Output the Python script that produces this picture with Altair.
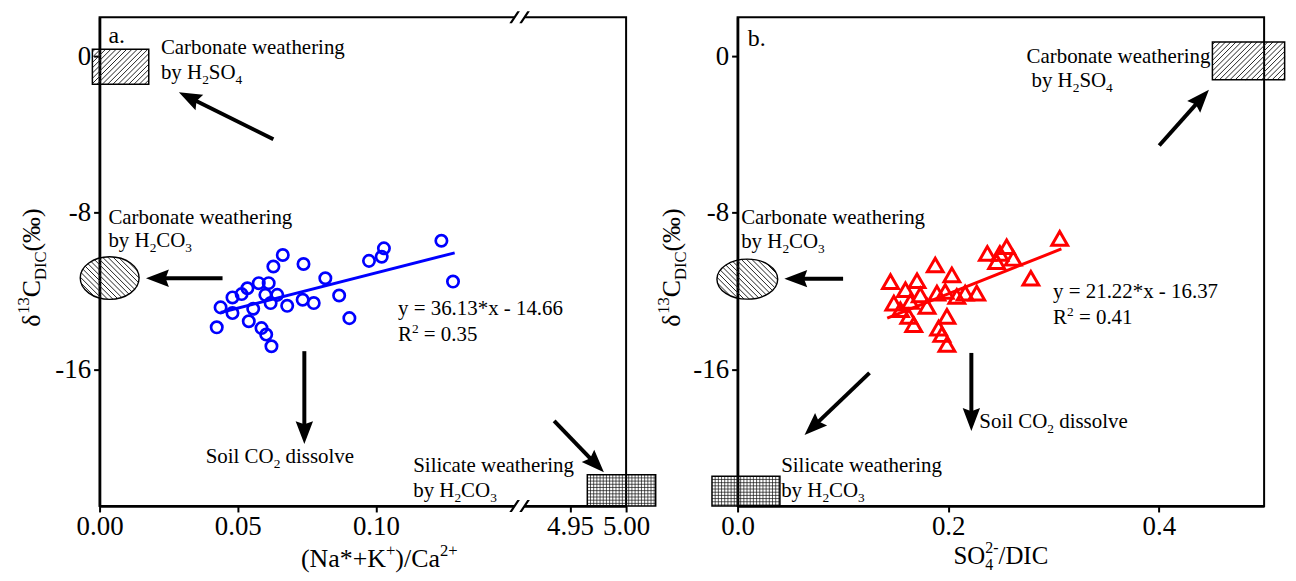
import math
import altair as alt
import pandas as pd

# ---------------- data ----------------
# panel a : (Na*+K+)/Ca2+  vs  d13C-DIC   (open blue circles)
a_ratio = [0.1237, 0.1279, 0.1029, 0.1021, 0.0975, 0.0738, 0.0663, 0.0629, 0.0817, 0.0867,
           0.0904, 0.0775, 0.0735, 0.0679, 0.0643, 0.0612, 0.0576, 0.0600, 0.0619, 0.0535,
           0.0514, 0.0481, 0.0438, 0.0481, 0.0424, 0.0540, 0.0586, 0.0603, 0.0622, 0.0556]
a_d13c = [-9.43, -11.52, -9.82, -10.25, -10.46, -10.62, -10.16, -10.75, -11.35, -12.23,
          -13.39, -12.62, -12.45, -12.76, -12.20, -11.60, -11.60, -12.20, -12.62, -11.86,
          -12.16, -12.33, -12.84, -13.13, -13.86, -13.55, -13.90, -14.23, -14.83, -12.91]
a_fit_x = [0.0438, 0.1285]
a_fit_y = [-13.10, -10.05]

# panel b : SO4 2-/DIC  vs  d13C-DIC   (open red triangles)
b_ratio = [0.3059, 0.2555, 0.2491, 0.2372, 0.2618, 0.2460, 0.2785, 0.2271, 0.2161, 0.2035,
           0.1877, 0.1704, 0.1452, 0.1594, 0.1484, 0.1641, 0.1799, 0.1893, 0.1972, 0.1988,
           0.1909, 0.1988, 0.1626, 0.1673, 0.2082, 0.1546, 0.1940, 0.1735]
b_d13c = [-9.31, -9.74, -10.08, -10.08, -10.33, -10.50, -11.35, -12.11, -12.11, -11.18,
          -10.67, -11.48, -11.52, -11.94, -12.62, -12.54, -12.79, -12.11, -12.03, -13.30,
          -13.90, -14.74, -13.30, -13.72, -12.28, -12.96, -14.23, -12.20]
b_fit_x = [0.1421, 0.3075]
b_fit_y = [-13.39, -9.85]

# tick values
a_xticks = [0.0, 0.05, 0.10, 4.95, 5.00]
b_xticks = [0.0, 0.2, 0.4]
y_ticks = [0, -8, -16]

# end-member fields, data units: x1, x2, y1, y2
a_box_sulf = [-0.0026, 0.0178, 0.36, -1.42]
a_box_sil = [4.9654, 5.0264, -21.40, -23.0]
a_ell = [-0.0070, 0.0143, -10.25, -12.43]
b_box_sulf = [0.4509, 0.5195, 0.74, -1.20]
b_box_sil = [-0.0243, 0.0402, -21.48, -23.0]
b_ell = [-0.0196, 0.0381, -10.37, -12.42]

# arrows, data units: start x, start y, tip x, tip y
a_arrows = [(0.0629, -4.24, 0.0287, -1.84),
            (0.0445, -11.35, 0.0168, -11.35),
            (0.0741, -15.08, 0.0741, -19.83),
            (4.9358, -18.65, 4.9802, -21.28)]
b_arrows = [(0.1002, -11.37, 0.0444, -11.37),
            (0.4004, -4.56, 0.4476, -1.71),
            (0.2220, -15.17, 0.2220, -19.16),
            (0.1253, -16.19, 0.0636, -19.37)]

# annotation texts: pieces, left x, baseline y (data units), font size
a_notes = [
    (["a."], 0.0032, 0.70, 24),
    (["Carbonate weathering"], 0.0222, 0.11, 21),
    (["by H", ("2", "sub"), "SO", ("4", "sub")], 0.0222, -1.18, 21),
    (["Carbonate weathering"], 0.0032, -8.55, 21),
    (["by H", ("2", "sub"), "CO", ("3", "sub")], 0.0032, -9.74, 21),
    (["Soil CO", ("2", "sub"), " dissolve"], 0.0384, -20.82, 21),
    (["Silicate weathering"], 0.1135, -21.28, 21),
    (["by H", ("2", "sub"), "CO", ("3", "sub")], 0.1135, -22.55, 21),
    (["y = 36.13*x - 14.66"], 0.108, -13.25, 21),
    (["R", ("2", "sup"), " = 0.35"], 0.108, -14.58, 21),
]
b_notes = [
    (["b."], 0.0097, 0.53, 24),
    (["Carbonate weathering"], 0.0034, -8.60, 21),
    (["by H", ("2", "sub"), "CO", ("3", "sub")], 0.0034, -9.82, 21),
    (["Carbonate weathering"], 0.2744, -0.32, 21),
    (["by H", ("2", "sub"), "SO", ("4", "sub")], 0.2791, -1.59, 21),
    (["y = 21.22*x - 16.37"], 0.2996, -12.38, 21),
    (["R", ("2", "sup"), " = 0.41"], 0.2996, -13.71, 21),
    (["Soil CO", ("2", "sub"), " dissolve"], 0.2296, -18.99, 21),
    (["Silicate weathering"], 0.0414, -21.28, 21),
    (["by H", ("2", "sub"), "CO", ("3", "sub")], 0.0414, -22.55, 21),
]
a_xtitle = ["(Na*+K", ("+", "sup"), ")/Ca", ("2+", "sup")]
b_xtitle = ["SO", ("4", "sub", False), ("2-", "sup"), "/DIC"]
y_title = ["\u03b4", ("13", "sup"), "C", ("DIC", "sub"), "(\u2030)"]

# ---------------- geometry helpers ----------------
FONT = "Liberation Serif"
BLUE = "#0000ff"
RED = "#ff0000"
W, H = 529, 491
Y_DOM = [-23.0, 2.0]


def y_px(y):
    return (Y_DOM[1] - y) / (Y_DOM[1] - Y_DOM[0]) * H


def y_dat(p):
    return Y_DOM[1] - p / H * (Y_DOM[1] - Y_DOM[0])


XA_DOM = [0.0, 0.152, 4.905, 5.0]
XA_RNG = [0.0, 422.0, 422.0, float(W)]


def xa_px(x):
    if x <= XA_DOM[1]:
        return XA_RNG[0] + (x - XA_DOM[0]) / (XA_DOM[1] - XA_DOM[0]) * (XA_RNG[1] - XA_RNG[0])
    return XA_RNG[2] + (x - XA_DOM[2]) / (XA_DOM[3] - XA_DOM[2]) * (XA_RNG[3] - XA_RNG[2])


def xa_dat(p):
    if p <= XA_RNG[1]:
        return XA_DOM[0] + (p - XA_RNG[0]) / (XA_RNG[1] - XA_RNG[0]) * (XA_DOM[1] - XA_DOM[0])
    return XA_DOM[2] + (p - XA_RNG[2]) / (XA_RNG[3] - XA_RNG[2]) * (XA_DOM[3] - XA_DOM[2])


XB_DOM = [0.0, 0.5]


def xb_px(x):
    return (x - XB_DOM[0]) / (XB_DOM[1] - XB_DOM[0]) * W


def xb_dat(p):
    return XB_DOM[0] + p / W * (XB_DOM[1] - XB_DOM[0])


ADV = {' ': 250, '(': 333, ')': 333, '*': 500, '+': 564, '-': 333, '.': 250, '/': 278, '=': 564,
       'C': 667, 'D': 722, 'H': 722, 'I': 333, 'K': 722, 'N': 722, 'O': 722, 'R': 667, 'S': 556,
       'a': 444, 'b': 500, 'c': 444, 'd': 500, 'e': 444, 'g': 500, 'h': 500, 'i': 278, 'l': 278,
       'n': 500, 'o': 500, 'r': 333, 's': 389, 't': 278, 'v': 500, 'w': 722, 'x': 500, 'y': 500,
       '\u03b4': 500, '\u2030': 1000}
SUB_R, SUB_DY, SUP_DY = 0.64, 0.24, 0.42


def adv(s, f):
    return sum(ADV.get(c, 500) for c in s) / 1000.0 * f


def norm(p):
    if isinstance(p, str):
        return (p, "n", True)
    if len(p) == 2:
        return (p[0], p[1], True)
    return p


def psize(kind, fs):
    return fs if kind == "n" else fs * SUB_R


def total_width(pieces, fs):
    return sum(adv(t, psize(k, fs)) for t, k, a in map(norm, pieces) if a)


def place(rows, pieces, fs, px0, py0, ang, to_dat):
    off = 0.0
    for t, k, a in map(norm, pieces):
        f = psize(k, fs)
        lead = len(t) - len(t.lstrip(" "))
        if lead:
            off += adv(" " * lead, f)
            t = t.lstrip(" ")
        sh = 0.0 if k == "n" else (SUB_DY * fs if k == "sub" else -SUP_DY * fs)
        if ang == 0:
            px, py = px0 + off, py0 + sh
        else:
            px, py = px0 + sh, py0 - off
        rows.append({"x": to_dat(px), "y": y_dat(py), "t": t, "fs": f, "ang": ang})
        if a:
            off += adv(t, f)


def f4(v):
    return f"{v:.4f}"


def hatch_rect(wpx, hpx, step):
    S = max(wpx, hpx) / 2.0
    w, h, st = wpx / 2 / S, hpx / 2 / S, step / S
    segs = []
    c = -(w + h) + st * 0.5
    while c < w + h:
        lo, hi = max(-w, c - h), min(w, c + h)
        if hi - lo > 1e-4:
            segs.append(f"M{f4(lo)},{f4(c - lo)}L{f4(hi)},{f4(c - hi)}")
        c += st
    return "".join(segs), (2 * S) ** 2


def hatch_grid(wpx, hpx, step):
    S = max(wpx, hpx) / 2.0
    w, h, st = wpx / 2 / S, hpx / 2 / S, step / S
    segs = []
    x = -w + st
    while x < w - 1e-4:
        segs.append(f"M{f4(x)},{f4(-h)}L{f4(x)},{f4(h)}")
        x += st
    y = -h + st
    while y < h - 1e-4:
        segs.append(f"M{f4(-w)},{f4(y)}L{f4(w)},{f4(y)}")
        y += st
    return "".join(segs), (2 * S) ** 2


def ellipse_paths(wpx, hpx, step):
    S = max(wpx, hpx) / 2.0
    a, b, st = wpx / 2 / S, hpx / 2 / S, step / S
    outline = (f"M{f4(-a)},0A{f4(a)},{f4(b)} 0 1,0 {f4(a)},0"
               f"A{f4(a)},{f4(b)} 0 1,0 {f4(-a)},0Z")
    segs = []
    R = math.hypot(a, b)
    c = -R + st * 0.5
    while c < R:
        A = 1 / a ** 2 + 1 / b ** 2
        B = -2 * c / b ** 2
        C = c * c / b ** 2 - 1
        disc = B * B - 4 * A * C
        if disc > 1e-6:
            r = math.sqrt(disc)
            x1, x2 = (-B - r) / (2 * A), (-B + r) / (2 * A)
            segs.append(f"M{f4(x1)},{f4(x1 - c)}L{f4(x2)},{f4(x2 - c)}")
        c += st
    return outline, "".join(segs), (2 * S) ** 2


def slash_poly(b, t, hw, hy):
    return (f"M{f4(b - hw)},{f4(hy)}L{f4(t - hw)},{f4(-hy)}"
            f"L{f4(t + hw)},{f4(-hy)}L{f4(b + hw)},{f4(hy)}Z")


HEAD = "M0,0L0.38,1L0,0.86L-0.38,1Z"
HEAD_LEN = 23.0
BREAK_FILL = "M-0.95,0.6L-0.15,-0.6L0.95,-0.6L0.15,0.6Z"
BREAK_LINES = slash_poly(-0.9, -0.1, 0.13, 0.6) + slash_poly(0.1, 0.9, 0.13, 0.6)


def build_panel(xscale, xaxis, to_px, to_dat, px_, py_, fitx, fity, point_mark,
                boxes, ell, arrows, notes, xtitle, xt_cx, xt_base, xt_fs, yt_x, breaks=False):
    yscale = alt.Scale(domain=Y_DOM, nice=False, zero=False)
    yaxis = alt.Axis(values=y_ticks, labelExpr="'' + datum.value", title=None, grid=False,
                     tickSize=6, tickWidth=2, tickColor="black", domainWidth=2.5,
                     domainColor="black", labelFont=FONT, labelFontSize=27,
                     labelColor="black", labelPadding=3)

    def X(f):
        return alt.X(f"{f}:Q", scale=xscale, axis=xaxis)

    def Y(f):
        return alt.Y(f"{f}:Q", scale=yscale, axis=yaxis)

    layers = []
    # end-member boxes
    for box, kind in boxes:
        x1, x2, y1, y2 = box
        wpx = abs(to_px(x2) - to_px(x1))
        hpx = abs(y_px(y2) - y_px(y1))
        if kind == "diag":
            path, size = hatch_rect(wpx, hpx, 5.3)
            hstyle = dict(color="#222222", strokeWidth=1.0)
        else:
            path, size = hatch_grid(wpx, hpx, 3.2)
            hstyle = dict(color="#111111", strokeWidth=0.7)
        df = pd.DataFrame({"x": [x1], "x2": [x2], "y": [y1], "y2": [y2],
                           "cx": [(x1 + x2) / 2], "cy": [(y1 + y2) / 2]})
        layers.append(alt.Chart(df).mark_point(shape=path, size=size, filled=False,
                                               opacity=1, **hstyle)
                      .encode(x=X("cx"), y=Y("cy")))
        layers.append(alt.Chart(df).mark_rect(filled=False, color="black", strokeWidth=1.5)
                      .encode(x=X("x"), x2="x2", y=Y("y"), y2="y2"))
    # ellipse
    ex1, ex2, ey1, ey2 = ell
    outline, hatch, esize = ellipse_paths(abs(to_px(ex2) - to_px(ex1)),
                                          abs(y_px(ey2) - y_px(ey1)), 5.3)
    edf = pd.DataFrame({"cx": [(ex1 + ex2) / 2], "cy": [(ey1 + ey2) / 2]})
    layers.append(alt.Chart(edf).mark_point(shape=hatch, size=esize, filled=False,
                                            color="#222222", strokeWidth=1.0, opacity=1)
                  .encode(x=X("cx"), y=Y("cy")))
    layers.append(alt.Chart(edf).mark_point(shape=outline, size=esize, filled=False,
                                            color="black", strokeWidth=1.4, opacity=1)
                  .encode(x=X("cx"), y=Y("cy")))
    # data points and fit line
    pdf = pd.DataFrame({"x": px_, "y": py_})
    layers.append(point_mark(alt.Chart(pdf)).encode(x=X("x"), y=Y("y")))
    fdf = pd.DataFrame({"x": fitx, "y": fity})
    layers.append(alt.Chart(fdf).mark_line(color=point_mark.color, strokeWidth=3)
                  .encode(x=X("x"), y=Y("y")))
    # arrows
    shafts, heads = [], []
    for sx, sy, tx, ty in arrows:
        spx, spy, tpx, tpy = to_px(sx), y_px(sy), to_px(tx), y_px(ty)
        dx, dy = tpx - spx, tpy - spy
        L = math.hypot(dx, dy)
        qx, qy = tpx - dx / L * HEAD_LEN * 0.75, tpy - dy / L * HEAD_LEN * 0.75
        shafts.append({"x": sx, "y": sy, "x2": to_dat(qx), "y2": y_dat(qy)})
        heads.append({"x": tx, "y": ty, "ang": math.degrees(math.atan2(dx, -dy)) % 360})
    layers.append(alt.Chart(pd.DataFrame(shafts)).mark_rule(color="black", strokeWidth=4)
                  .encode(x=X("x"), y=Y("y"), x2="x2", y2="y2"))
    layers.append(alt.Chart(pd.DataFrame(heads))
                  .mark_point(shape=HEAD, size=(2 * HEAD_LEN) ** 2, filled=True,
                              color="black", opacity=1)
                  .encode(x=X("x"), y=Y("y"), angle=alt.Angle("ang:Q", scale=None)))
    # axis breaks (filled shapes only, so their bounds stay tight)
    if breaks:
        bdf = pd.DataFrame({"x": [XA_DOM[1], XA_DOM[1]], "y": [Y_DOM[1], Y_DOM[0]]})
        layers.append(alt.Chart(bdf).mark_point(shape=BREAK_FILL, size=400, filled=True,
                                                color="white", opacity=1)
                      .encode(x=X("x"), y=Y("y")))
        layers.append(alt.Chart(bdf).mark_point(shape=BREAK_LINES, size=400, filled=True,
                                                color="black", opacity=1)
                      .encode(x=X("x"), y=Y("y")))
    # texts
    rows = []
    for pieces, tx, ty, fs in notes:
        place(rows, pieces, fs, to_px(tx), y_px(ty), 0, to_dat)
    place(rows, xtitle, xt_fs, xt_cx - total_width(xtitle, xt_fs) / 2, xt_base, 0, to_dat)
    fs_y = 26
    place(rows, y_title, fs_y, yt_x, H / 2 + 6 + total_width(y_title, fs_y) / 2, 270, to_dat)
    layers.append(alt.Chart(pd.DataFrame(rows))
                  .mark_text(align="left", baseline="alphabetic", font=FONT, color="black")
                  .encode(x=X("x"), y=Y("y"), text="t:N",
                          size=alt.Size("fs:Q", scale=None),
                          angle=alt.Angle("ang:Q", scale=None)))
    return layers


def circles(c):
    return c.mark_point(shape="circle", filled=False, color=BLUE, strokeWidth=2.7,
                        size=130, opacity=1)


circles.color = BLUE


def triangles(c):
    return c.mark_point(shape="triangle-up", filled=False, color=RED, strokeWidth=3,
                        size=250, opacity=1)


triangles.color = RED


def x_axis(vals, fmt):
    return alt.Axis(values=vals, labelExpr=f"format(datum.value, '{fmt}')", title=None,
                    grid=False, tickSize=6, tickWidth=2, tickColor="black", domainWidth=2.5,
                    domainColor="black", labelFont=FONT, labelFontSize=27, labelColor="black",
                    labelPadding=2, labelOverlap=False, labelFlush=False)


xa_scale = alt.Scale(domain=XA_DOM, range=XA_RNG, nice=False, zero=False)
xb_scale = alt.Scale(domain=XB_DOM, nice=False, zero=False)

layers_a = build_panel(xa_scale, x_axis(a_xticks, ".2f"), xa_px, xa_dat, a_ratio, a_d13c,
                       a_fit_x, a_fit_y, circles,
                       [(a_box_sulf, "diag"), (a_box_sil, "grid")], a_ell, a_arrows, a_notes,
                       a_xtitle, 281, 552, 26, -60, breaks=True)
# near-invisible white anchor that fixes the page position of the left panel
anchor = alt.Chart(pd.DataFrame({"k": [0]})).mark_rule(color="white", strokeWidth=0.2).encode(
    x=alt.value(-90.3), x2=alt.value(-90.3), y=alt.value(-6.5), y2=alt.value(-5.5))
panel_a = alt.layer(*layers_a, anchor).properties(width=W, height=H)

layers_b = build_panel(xb_scale, x_axis(b_xticks, ".1f"), xb_px, xb_dat, b_ratio, b_d13c,
                       b_fit_x, b_fit_y, triangles,
                       [(b_box_sulf, "diag"), (b_box_sil, "grid")], b_ell, b_arrows, b_notes,
                       b_xtitle, W / 2, 549, 25, -58)
panel_b = alt.layer(*layers_b).properties(width=W, height=H)

chart = (alt.hconcat(panel_a, panel_b, spacing=112, bounds="flush")
         .properties(padding={"left": 0, "top": 0, "right": 0, "bottom": 0},
                     background="white")
         .configure_view(stroke="black", strokeWidth=2))

chart.save("out.html", embed_options={"renderer": "svg", "actions": False})
